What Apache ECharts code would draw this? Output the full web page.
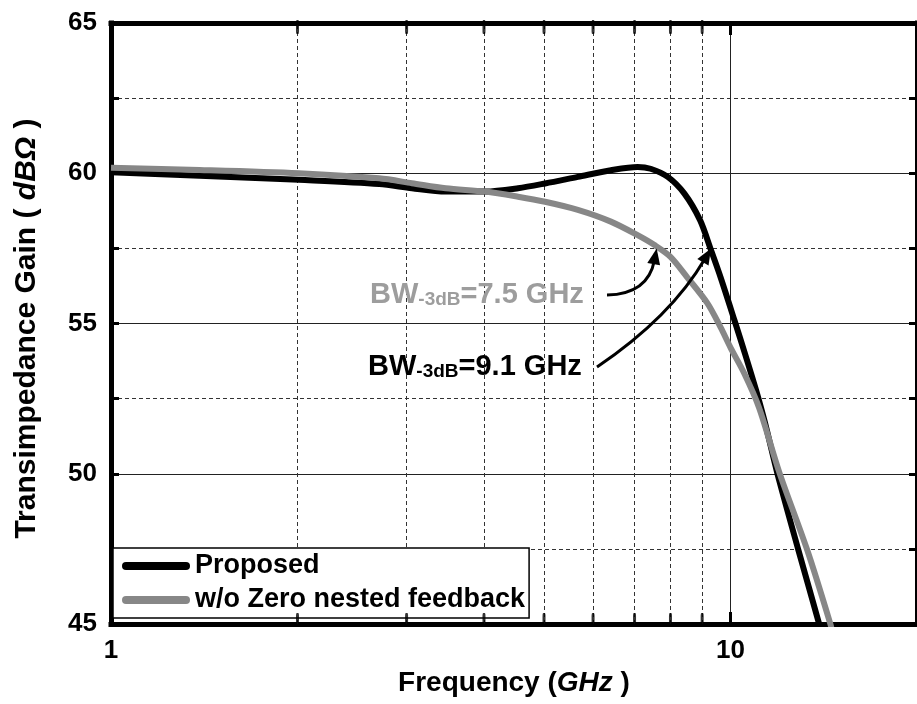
<!DOCTYPE html>
<html>
<head>
<meta charset="utf-8">
<script src="https://cdn.jsdelivr.net/npm/echarts@6/dist/echarts.min.js"></script>
<style>html,body{margin:0;padding:0;background:#fff}#c{width:917px;height:704px}</style>
</head>
<body>
<div id="c"></div>
<script>
// ---------- data ----------
const xTickLabels = [1, 10];
const xMinorGrid = [2, 3, 4, 5, 6, 7, 8, 9];
const yMin = 45, yMax = 65, yStep = 5;
const xMin = 1, xMax = 20;

const seriesNames = ['Proposed', 'w/o Zero nested feedback'];

const freqProposed = [1.00, 1.39, 2.01, 2.71, 3.06, 3.47, 4.02, 4.54, 5.02, 5.67, 6.41, 7.08, 7.43, 7.92, 8.42, 8.93, 9.29, 9.64, 10.15, 10.57, 10.99, 11.36, 11.90, 12.87, 13.89, 14.05];
const gainProposed = [60.03, 59.92, 59.78, 59.64, 59.50, 59.39, 59.39, 59.50, 59.66, 59.88, 60.10, 60.21, 60.15, 59.88, 59.33, 58.44, 57.47, 56.53, 55.10, 53.95, 52.80, 51.72, 50.02, 47.46, 45.03, 44.60];

const freqNoZero = [1.00, 1.39, 2.01, 2.71, 3.06, 3.47, 4.02, 4.54, 5.02, 5.67, 6.41, 7.08, 7.54, 8.00, 8.52, 9.18, 9.64, 10.00, 10.53, 11.12, 12.00, 13.30, 14.48, 14.65];
const gainNoZero = [60.18, 60.11, 60.00, 59.83, 59.67, 59.50, 59.39, 59.22, 59.05, 58.78, 58.39, 57.94, 57.61, 57.22, 56.53, 55.67, 54.87, 54.20, 53.33, 52.20, 50.02, 47.46, 45.03, 44.60];

// -3 dB bandwidth annotations
const bwValues = [7.5, 9.1];
const bwColors = ['#9d9d9d', '#000000'];
const arrowTipFreq = [7.6, 9.3];
const arrowTipGain = [57.5, 57.5];

// ---------- chart ----------
const FONT = "'Liberation Sans', Arial, Helvetica, sans-serif";
const zip = (a, b) => a.map((v, i) => [v, b[i]]);

const chart = echarts.init(document.getElementById('c'), null, {renderer: 'canvas'});

const axisLineStyle = {color: '#000', width: 5, cap: 'square'};
const tickStyle = {color: '#000', width: 3};
const labelFont = {fontSize: 26, fontWeight: 'bold', fontFamily: FONT, color: '#000'};

function xLabel(v) {
  for (const t of xTickLabels) if (Math.abs(v - t) < 1e-6 * t) return String(t);
  return '';
}

const option = {
  animation: false,
  backgroundColor: '#fff',
  grid: {left: 111, top: 23, right: -3, bottom: 80, containLabel: false},
  legend: {
    data: seriesNames,
    orient: 'vertical',
    left: 113, top: 548,
    padding: [4, 4, 4, 9],
    itemGap: 6,
    itemWidth: 68, itemHeight: 8,
    icon: 'path://M4,0 L64,0 A4,4 0 0 1 64,8 L4,8 A4,4 0 0 1 4,0 Z',
    itemStyle: {borderWidth: 0},
    textStyle: {fontSize: 27, fontWeight: 'bold', fontFamily: FONT, color: '#000', lineHeight: 28},
    borderColor: '#000', borderWidth: 1.5, borderRadius: 0,
    backgroundColor: '#fff',
    selectedMode: false
  },
  xAxis: [{
    type: 'log', logBase: 10, min: xMin, max: xMax, position: 'bottom',
    axisLine: {show: true, onZero: false, lineStyle: axisLineStyle},
    axisTick: {show: true, inside: true, length: 12, lineStyle: tickStyle},
    axisLabel: Object.assign({margin: 14, formatter: xLabel, showMaxLabel: false}, labelFont),
    splitLine: {show: true, lineStyle: {color: '#222', width: 1}},
    name: '{n|Frequency (}{i|GHz}{n| )}',
    nameLocation: 'middle', nameGap: 43,
    nameTextStyle: {
      rich: {
        n: {fontSize: 28, fontWeight: 'bold', fontFamily: FONT, color: '#000', lineHeight: 30},
        i: {fontSize: 28, fontWeight: 'bold', fontStyle: 'italic', fontFamily: FONT, color: '#000', lineHeight: 30}
      }
    }
  }, {
    type: 'log', logBase: 10, min: xMin, max: xMax, position: 'top',
    axisLine: {show: true, onZero: false, lineStyle: axisLineStyle},
    axisTick: {show: true, inside: true, length: 12, lineStyle: tickStyle},
    axisLabel: {show: false},
    splitLine: {show: false}
  }],
  yAxis: [{
    type: 'value', min: yMin, max: yMax, interval: yStep, position: 'left',
    axisLine: {show: true, onZero: false, lineStyle: axisLineStyle},
    axisTick: {show: true, inside: true, length: 8, lineStyle: tickStyle},
    minorTick: {show: true, splitNumber: 2, length: 8, lineStyle: tickStyle},
    minorSplitLine: {show: true, lineStyle: {color: '#333', width: 1, type: [4, 3]}},
    splitLine: {show: true, lineStyle: {color: '#222', width: 1}},
    axisLabel: Object.assign({margin: 14}, labelFont),
    name: '{n|Transimpedance Gain (}{i| dBΩ }{n|)}',
    nameLocation: 'middle', nameRotate: 90, nameGap: 68,
    nameTextStyle: {
      padding: [0, 10, 0, 0],
      rich: {
        n: {fontSize: 30, fontWeight: 'bold', fontFamily: FONT, color: '#000', lineHeight: 32},
        i: {fontSize: 30, fontWeight: 'bold', fontStyle: 'italic', fontFamily: FONT, color: '#000', lineHeight: 32}
      }
    }
  }, {
    type: 'value', min: yMin, max: yMax, interval: yStep, position: 'right',
    axisLine: {show: true, onZero: false, lineStyle: axisLineStyle},
    axisTick: {show: true, inside: true, length: 8, lineStyle: tickStyle},
    minorTick: {show: true, splitNumber: 2, length: 8, lineStyle: tickStyle},
    splitLine: {show: false},
    axisLabel: {show: false}
  }],
  series: [{
    name: seriesNames[0], type: 'line',
    data: zip(freqProposed, gainProposed),
    symbol: 'none', smooth: 0.3,
    lineStyle: {color: '#000', width: 6},
    itemStyle: {color: '#000'},
    z: 3, clip: true
  }, {
    name: seriesNames[1], type: 'line',
    data: zip(freqNoZero, gainNoZero),
    symbol: 'none', smooth: 0.3,
    lineStyle: {color: '#878787', width: 6},
    itemStyle: {color: '#878787'},
    z: 4, clip: true
  }, {
    name: 'minorTicksBottom', type: 'scatter',
    data: xMinorGrid.map(v => [v, yMin]),
    symbol: 'roundRect', symbolSize: [3, 14], symbolOffset: [0, -4],
    itemStyle: {color: '#000'}, silent: true, clip: false, z: 6,
    markLine: {
      silent: true, symbol: ['none', 'none'], z: 1,
      label: {show: false},
      lineStyle: {color: '#333', width: 1, type: [4, 3]},
      emphasis: {disabled: true},
      data: xMinorGrid.map(v => ({xAxis: v}))
    }
  }, {
    name: 'minorTicksTop', type: 'scatter',
    data: xMinorGrid.map(v => [v, yMax]),
    symbol: 'roundRect', symbolSize: [3, 14], symbolOffset: [0, 4],
    itemStyle: {color: '#000'}, silent: true, clip: false, z: 6
  }]
};

chart.setOption(option);

// ---------- annotations ----------
function px(f, g) { return chart.convertToPixel({xAxisIndex: 0, yAxisIndex: 0}, [f, g]); }

const textPos = [[370, 293], [368, 365]];
const arrowStart = [[607, 295], [597, 367]];
const arrowCtrl = [[648, 294], [671, 317]];

const graphics = [];
for (let k = 0; k < 2; k++) {
  const col = bwColors[k];
  graphics.push({
    type: 'text', x: textPos[k][0], y: textPos[k][1], z: 10,
    style: {
      text: '{a|BW}{s|-3dB}{a|=' + bwValues[k] + ' GHz}',
      align: 'left', verticalAlign: 'middle',
      textAlign: 'left', textVerticalAlign: 'middle',
      rich: {
        a: {fontSize: 29, fontWeight: 'bold', fontFamily: FONT, fill: col, color: col, lineHeight: 32, verticalAlign: 'bottom'},
        s: {fontSize: 19, fontWeight: 'bold', fontFamily: FONT, fill: col, color: col, lineHeight: 17, verticalAlign: 'bottom'}
      }
    }
  });
  const tip = px(arrowTipFreq[k], arrowTipGain[k]);
  const c = arrowCtrl[k];
  const dx = tip[0] - c[0], dy = tip[1] - c[1];
  const L = Math.hypot(dx, dy), ux = dx / L, uy = dy / L;
  const headLen = 16, headW = 6.5;
  const base = [tip[0] - ux * headLen, tip[1] - uy * headLen];
  const end = [tip[0] - ux * (headLen - 4), tip[1] - uy * (headLen - 4)];
  graphics.push({
    type: 'bezierCurve', z: 10,
    shape: {x1: arrowStart[k][0], y1: arrowStart[k][1], cpx1: c[0], cpy1: c[1], x2: end[0], y2: end[1]},
    style: {stroke: '#000', lineWidth: 3, fill: null}
  });
  graphics.push({
    type: 'polygon', z: 10,
    shape: {points: [tip, [base[0] - uy * headW, base[1] + ux * headW], [base[0] + uy * headW, base[1] - ux * headW]]},
    style: {fill: '#000', stroke: null}
  });
}
chart.setOption({graphic: graphics});
</script>
</body>
</html>
